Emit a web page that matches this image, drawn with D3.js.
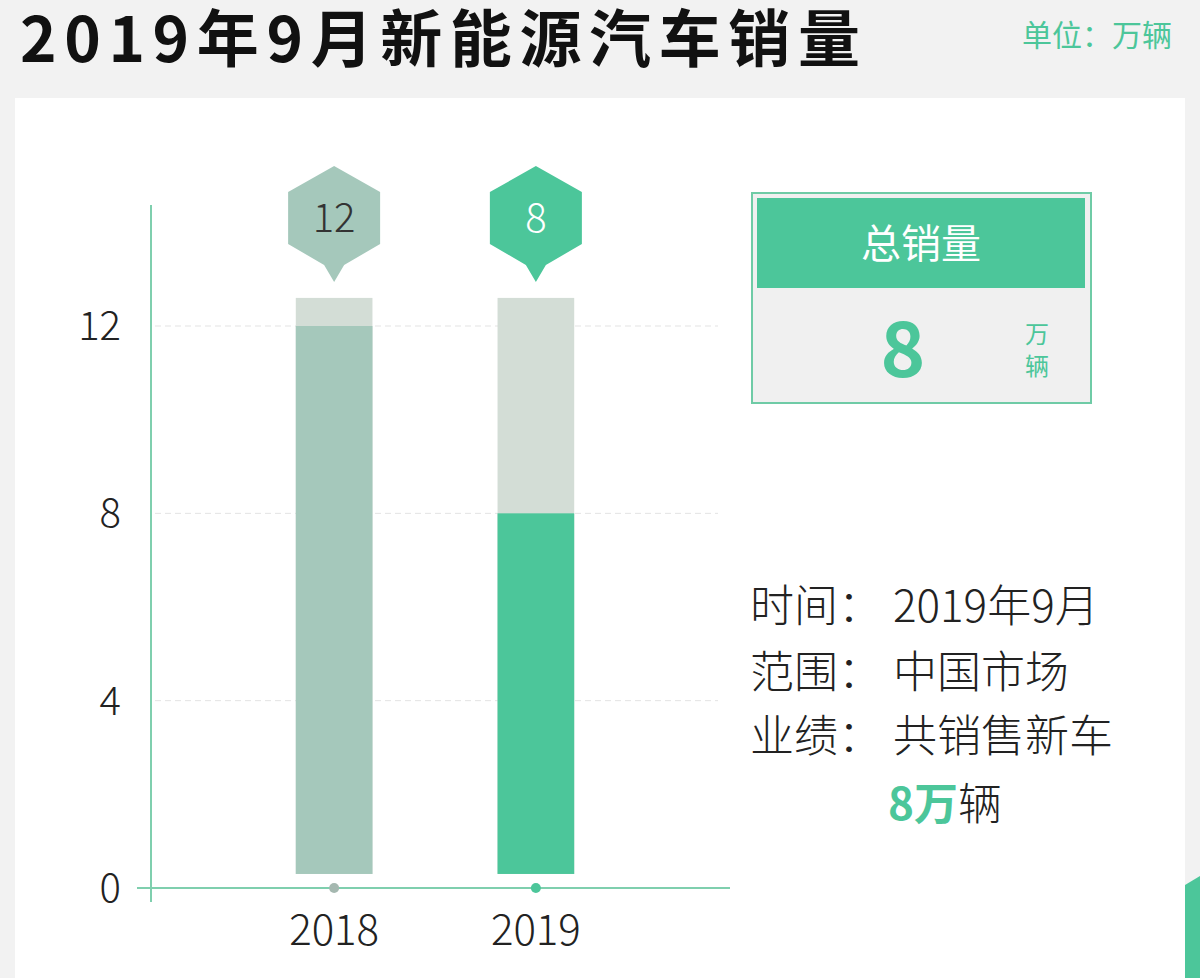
<!DOCTYPE html><html><head><meta charset="utf-8">
<script src="https://cdn.jsdelivr.net/npm/d3@7"></script>
<style>body{margin:0;background:#f2f2f2}svg{display:block;font-family:"Noto Sans CJK SC","Noto Sans",sans-serif}</style></head><body>
<svg id="c" width="1200" height="978"></svg>
<script>
const years=["2018","2019"];
const sales=[12,8];
const yTicks=[0,4,8,12];
const barColors=["#a5c8bb","#4cc69a"];
const svg=d3.select("#c");
const green="#4cc69a";
svg.append("rect").attr("x",15).attr("y",98).attr("width",1170).attr("height",900).attr("fill","#fff");
svg.append("polygon").attr("points","1185,885 1200,876 1200,978 1185,978").attr("fill",green);
svg.append("text").attr("x",20).attr("y",62).attr("font-size",62).attr("font-weight",700).attr("fill","#111").attr("textLength",840).attr("lengthAdjust","spacing").text("2019年9月新能源汽车销量");
svg.append("text").attr("x",1172).attr("y",46).attr("text-anchor","end").attr("font-size",30).attr("fill",green).text("单位：万辆");
const y=d3.scaleLinear().domain([0,12]).range([888,326]);
const x=d3.scaleBand().domain(years).range([205,665]).paddingInner(0.62).paddingOuter(0.45);
svg.selectAll(".g").data(yTicks.filter(d=>d>0)).join("line").attr("x1",155).attr("x2",718).attr("y1",d=>y(d)).attr("y2",d=>y(d)).attr("stroke","#e3e3e3").attr("stroke-dasharray","6,4");
svg.append("line").attr("x1",151).attr("x2",151).attr("y1",205).attr("y2",902).attr("stroke","#7fcfae").attr("stroke-width",2);
svg.append("line").attr("x1",137).attr("x2",730).attr("y1",888).attr("y2",888).attr("stroke","#7fcfae").attr("stroke-width",2);
svg.selectAll(".t").data(yTicks).join("text").attr("x",121).attr("y",d=>y(d)+14).attr("text-anchor","end").attr("font-size",40).attr("font-weight",300).attr("fill","#222").text(d=>d);
const bw=x.bandwidth();
svg.selectAll(".bg").data(years).join("rect").attr("x",d=>x(d)).attr("width",bw).attr("y",y(12.6)).attr("height",y(0.3)-y(12.6)).attr("fill","#d3ddd6");
svg.selectAll(".b").data(years).join("rect").attr("x",d=>x(d)).attr("width",bw).attr("y",(d,i)=>y(sales[i])).attr("height",(d,i)=>y(0.3)-y(sales[i])).attr("fill",(d,i)=>barColors[i]);
svg.selectAll(".dot").data(years).join("circle").attr("cx",d=>x(d)+bw/2).attr("cy",888).attr("r",5).attr("fill",(d,i)=>i?green:"#a5b8b0");
svg.selectAll(".xl").data(years).join("text").attr("x",d=>x(d)+bw/2).attr("y",945).attr("text-anchor","middle").attr("font-size",42).attr("font-weight",300).attr("fill","#222").text(d=>d);
years.forEach((d,i)=>{const cx=x(d)+bw/2,cy=218;
 const pts=[[cx,cy-52],[cx+46,cy-26],[cx+46,cy+26],[cx+10,cy+47],[cx,cy+64],[cx-10,cy+47],[cx-46,cy+26],[cx-46,cy-26]];
 svg.append("polygon").attr("points",pts.map(p=>p.join(",")).join(" ")).attr("fill",barColors[i]);
 svg.append("text").attr("x",cx).attr("y",cy+14).attr("text-anchor","middle").attr("font-size",40).attr("font-weight",300).attr("fill",i?"#fff":"#333").text(sales[i]);});
svg.append("rect").attr("x",752).attr("y",193).attr("width",339).attr("height",210).attr("fill","#f0f0f0").attr("stroke","#6fcba6").attr("stroke-width",2);
svg.append("rect").attr("x",757).attr("y",198).attr("width",328).attr("height",90).attr("fill",green);
svg.append("text").attr("x",921).attr("y",258).attr("text-anchor","middle").attr("font-size",40).attr("fill","#fff").text("总销量");
svg.append("text").attr("x",903).attr("y",377).attr("text-anchor","middle").attr("font-size",76).attr("font-weight",700).attr("fill",green).text(sales[1]);
svg.append("text").attr("x",1037).attr("y",343).attr("text-anchor","middle").attr("font-size",24).attr("fill",green).text("万");
svg.append("text").attr("x",1037).attr("y",375).attr("text-anchor","middle").attr("font-size",24).attr("fill",green).text("辆");
const lines=[["时间：","2019年9月",622],["范围：","中国市场",688],["业绩：","共销售新车",752]];
lines.forEach(l=>{svg.append("text").attr("x",750).attr("y",l[2]).attr("font-size",44).attr("font-weight",300).attr("fill","#222").text(l[0]);
 svg.append("text").attr("x",893).attr("y",l[2]).attr("font-size",44).attr("font-weight",300).attr("fill","#222").text(l[1]);});
const t=svg.append("text").attr("x",888).attr("y",820).attr("font-size",44).attr("font-weight",300).attr("fill","#222");
t.append("tspan").attr("font-weight",700).attr("fill",green).text(sales[1]+"万");
t.append("tspan").text("辆");
</script></body></html>
